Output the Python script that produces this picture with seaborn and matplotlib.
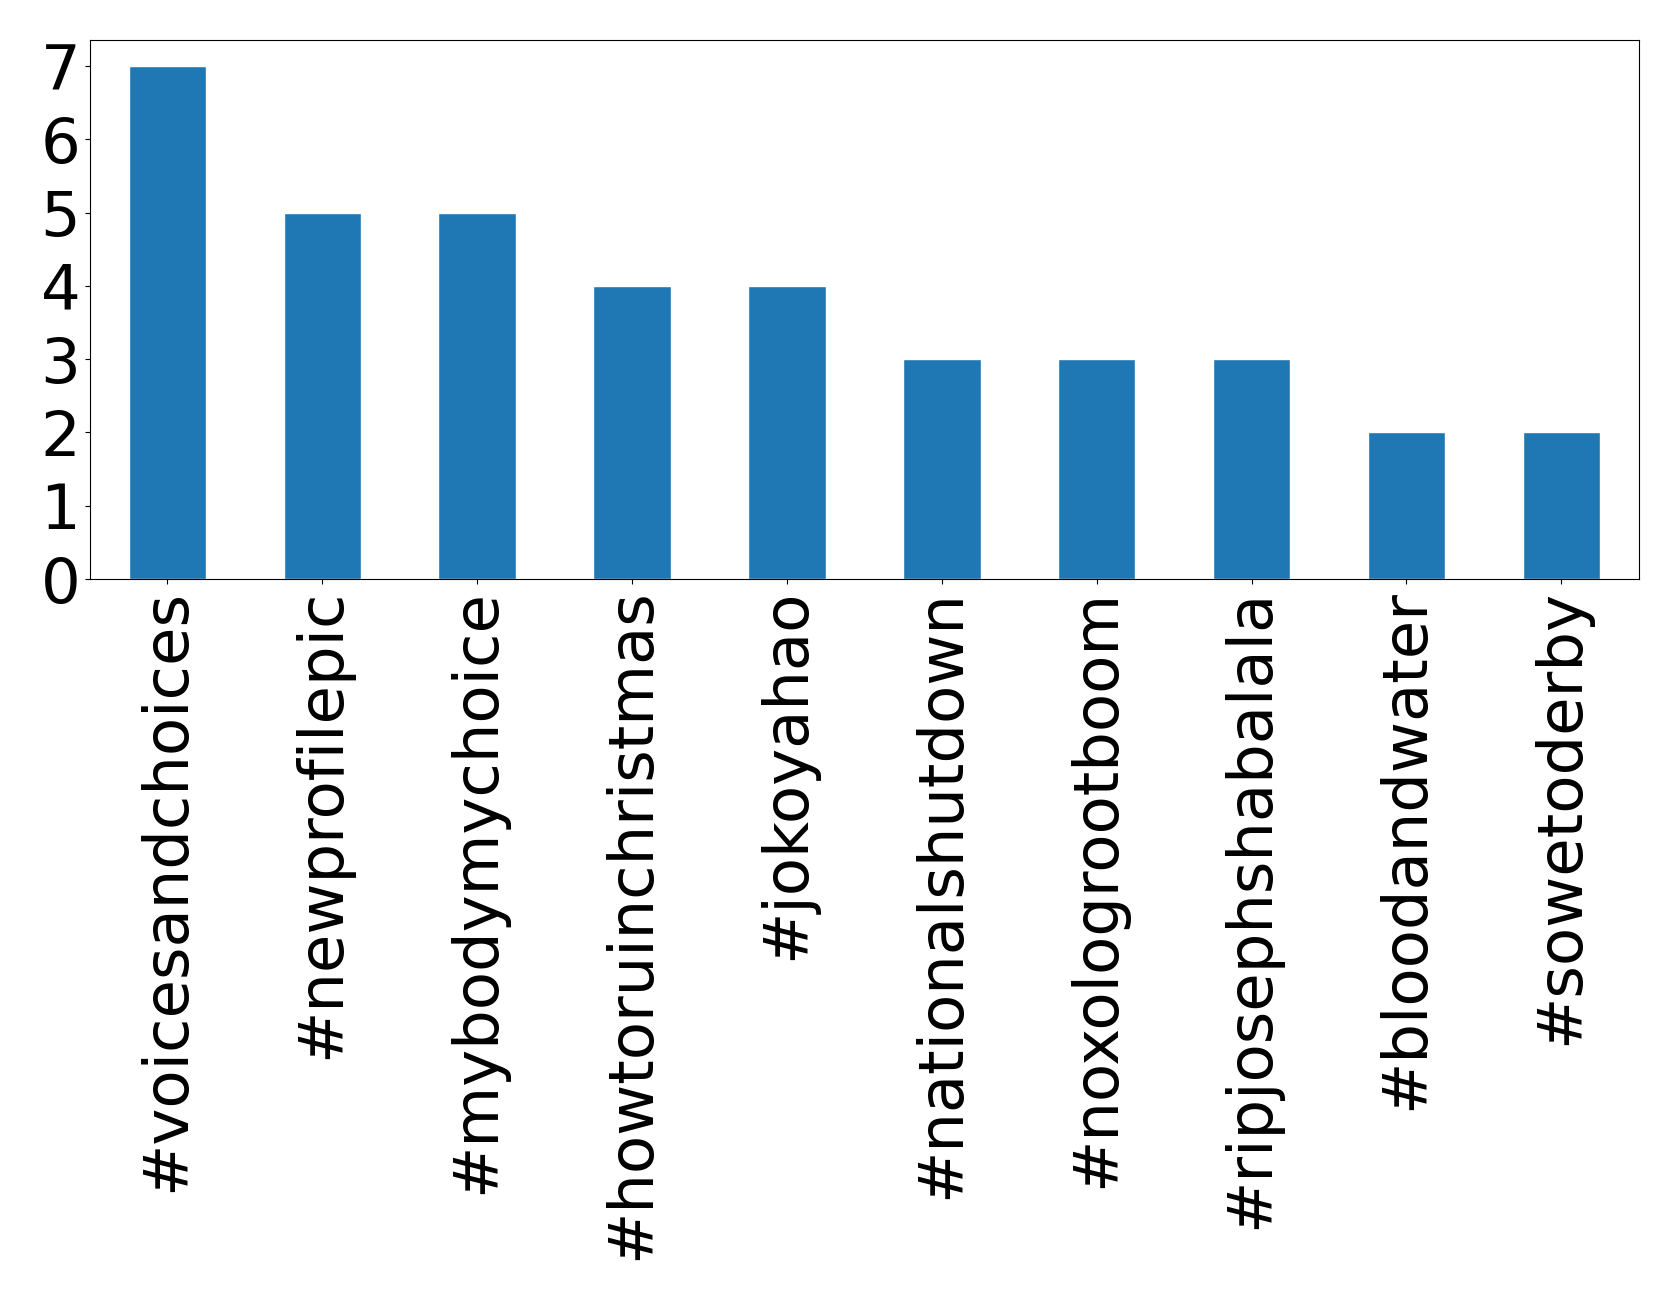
import matplotlib
matplotlib.use("Agg")
import matplotlib.pyplot as plt
import seaborn as sns
import pandas as pd

# data
hashtags = ["#voicesandchoices", "#newprofilepic", "#mybodymychoice", "#howtoruinchristmas",
            "#jokoyahao", "#nationalshutdown", "#noxologrootboom", "#ripjosephshabalala",
            "#bloodandwater", "#sowetoderby"]
counts = [7, 5, 5, 4, 4, 3, 3, 3, 2, 2]

sns.set_style("ticks")
plt.rcParams["font.family"] = ["DejaVu Sans"]

df = pd.DataFrame({"hashtag": hashtags, "count": counts})

fig, ax = plt.subplots(figsize=(16.79, 13), dpi=100)
sns.barplot(data=df, x="hashtag", y="count", color="#1f77b4", saturation=1,
            width=0.5, ax=ax)
ax.set_xlim(-0.5, len(hashtags) - 0.5)
ax.set_ylim(0, 7.35)
ax.set_yticks(range(0, 8))
ax.set_xlabel("")
ax.set_ylabel("")
ax.tick_params(axis="both", labelsize=45, colors="black")
ax.tick_params(axis="x", rotation=90)
for s in ax.spines.values():
    s.set_visible(True)
    s.set_color("black")
    s.set_linewidth(0.8)

plt.subplots_adjust(left=0.0536, right=0.976, top=0.969, bottom=0.5546)
plt.savefig("out.png", dpi=100)
